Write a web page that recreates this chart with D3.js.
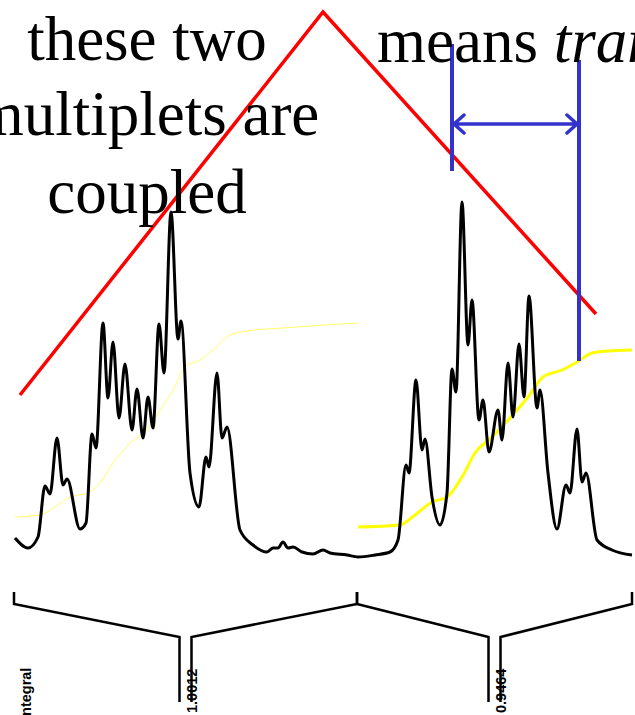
<!DOCTYPE html>
<html>
<head>
<meta charset="utf-8">
<script src="https://cdn.jsdelivr.net/npm/d3@7"></script>
<style>
  body { margin: 0; background: #fff; }
  svg { display: block; }
</style>
</head>
<body>
<div id="chart"></div>
<script>
// spectrum trace: position (chemical-shift axis, arbitrary units) and intensity
const tracePos = [15, 28, 38, 45, 50, 57, 63, 67, 80, 86, 92, 96, 103, 108, 113, 119, 125, 132, 137, 143,
  148, 153, 159, 164, 171, 178, 181, 190, 199, 206, 209, 217, 222, 227, 240, 253, 267, 273, 278, 283,
  288, 293, 302, 313, 323, 330, 347, 358, 375, 390, 398, 406, 409, 416, 422, 425, 432, 440, 447, 452,
  456, 462, 468, 472, 479, 483, 489, 498, 502, 508, 513, 519, 524, 529, 537, 540, 548, 557, 566, 570,
  577, 582, 586, 597, 612, 632];
const traceInt = [19, 9, 20, 71, 63, 119, 72, 78, 28, 34, 123, 109, 234, 159, 215, 139, 193, 127, 168, 119,
  160, 129, 233, 184, 345, 218, 236, 84, 50, 100, 90, 184, 119, 130, 27, 12, 5, 9, 9, 15,
  9, 10, 5, 3, 7, 4, 2, 0, 2, 5, 17, 92, 84, 177, 107, 118, 60, 32, 64, 188,
  165, 355, 212, 257, 137, 157, 105, 147, 117, 194, 140, 213, 160, 261, 149, 167, 84, 28, 72, 64,
  128, 75, 84, 17, 7, 2];

// integral curves
const int1Pos = [15, 40, 55, 70, 88, 100, 113, 130, 147, 160, 173, 185, 200, 213, 230, 247, 283, 358];
const int1Val = [40, 42, 50, 60, 64, 74, 94, 114, 127, 147, 167, 190, 197, 207, 222, 226, 229, 234];
const int2Pos = [358, 400, 415, 432, 447, 462, 475, 492, 510, 528, 543, 562, 577, 592, 608, 632];
const int2Val = [30, 32, 42, 55, 60, 80, 104, 120, 139, 160, 180, 187, 195, 204, 206, 207];

// integral regions and their values
const regionStart = [14, 357];
const regionEnd = [357, 632];
const regionValue = ["1.0012", "0.9464"];

// annotations
const roofPos = [20, 323, 596];
const roofVal = [162, 545, 243];
const couplingPos = [452, 579];
const couplingTop = [513, 497];
const couplingBottom = [386, 196];
const couplingArrowVal = 433;

const W = 635, H = 715;
const svg = d3.select("#chart").append("svg")
  .attr("width", W)
  .attr("height", H);

const x = d3.scaleLinear().domain([0, 635]).range([0, W]);
const y = d3.scaleLinear().domain([0, 557]).range([557, 0]);

const line = d3.line()
  .x(d => x(d[0]))
  .y(d => y(d[1]))
  .curve(d3.curveMonotoneX);

// red roof
svg.append("path")
  .attr("d", d3.line().x(d => x(d[0])).y(d => y(d[1]))(d3.zip(roofPos, roofVal)))
  .attr("fill", "none")
  .attr("stroke", "#ff0000")
  .attr("stroke-width", 3.5);

// integrals
svg.append("path")
  .attr("d", line(d3.zip(int1Pos, int1Val)))
  .attr("fill", "none")
  .attr("stroke", "#ffff66")
  .attr("stroke-width", 1);

svg.append("path")
  .attr("d", line(d3.zip(int2Pos, int2Val)))
  .attr("fill", "none")
  .attr("stroke", "#ffff00")
  .attr("stroke-width", 3);

// spectrum
svg.append("path")
  .attr("d", line(d3.zip(tracePos, traceInt)))
  .attr("fill", "none")
  .attr("stroke", "#000")
  .attr("stroke-width", 3)
  .attr("stroke-linejoin", "round");

// coupling marker
const blue = "#3333cc";
svg.append("g")
  .selectAll("line")
  .data(couplingPos)
  .join("line")
  .attr("x1", d => x(d)).attr("x2", d => x(d))
  .attr("y1", (d, i) => y(couplingTop[i]))
  .attr("y2", (d, i) => y(couplingBottom[i]))
  .attr("stroke", blue)
  .attr("stroke-width", 4);

const ay = y(couplingArrowVal);
const ax0 = x(couplingPos[0]) + 2, ax1 = x(couplingPos[1]) - 2;
svg.append("path")
  .attr("d", `M${ax0},${ay}L${ax1},${ay}M${ax0 + 10},${ay - 9}L${ax0},${ay}L${ax0 + 10},${ay + 9}M${ax1 - 10},${ay - 9}L${ax1},${ay}L${ax1 - 10},${ay + 9}`)
  .attr("fill", "none")
  .attr("stroke", blue)
  .attr("stroke-width", 3.5)
  .attr("stroke-linecap", "round")
  .attr("stroke-linejoin", "round");

// text
const serif = "'Liberation Serif', 'Times New Roman', serif";
const lines = ["these two", "multiplets are", "coupled"];
const lineY = [60, 135, 213];
svg.append("g")
  .selectAll("text")
  .data(lines)
  .join("text")
  .attr("x", 147)
  .attr("y", (d, i) => lineY[i])
  .attr("text-anchor", "middle")
  .style("font-family", serif)
  .style("font-size", "63px")
  .text(d => d);

const t = svg.append("text")
  .attr("x", 377)
  .attr("y", 62)
  .style("font-family", serif)
  .style("font-size", "63px");
t.append("tspan").text("means ");
t.append("tspan").style("font-style", "italic").text("trans");

// integral brackets
const bTop = 592, bShoulder = 604, bApex = 637, bFoot = 702, gap = 6;
const brackets = svg.append("g")
  .attr("fill", "none")
  .attr("stroke", "#000")
  .attr("stroke-width", 2.5);

regionStart.forEach((s, i) => {
  const x0 = x(s), x1 = x(regionEnd[i]);
  const m = (x0 + x1) / 2;
  brackets.append("path")
    .attr("d", `M${x0},${bTop}L${x0},${bShoulder}L${m - gap},${bApex}L${m - gap},${bFoot}M${m + gap},${bFoot}L${m + gap},${bApex}L${x1},${bShoulder}L${x1},${bTop}`);
  svg.append("text")
    .attr("transform", `translate(${m + gap + 5},713) rotate(-90)`)
    .style("font-family", "'Liberation Sans', Arial, sans-serif")
    .style("font-size", "14.5px")
    .style("font-weight", "bold")
    .text(regionValue[i]);
});

svg.append("text")
  .attr("transform", "translate(31,720) rotate(-90)")
  .style("font-family", "'Liberation Sans', Arial, sans-serif")
  .style("font-size", "14.5px")
  .style("font-weight", "bold")
  .text("Integral");
</script>
</body>
</html>
